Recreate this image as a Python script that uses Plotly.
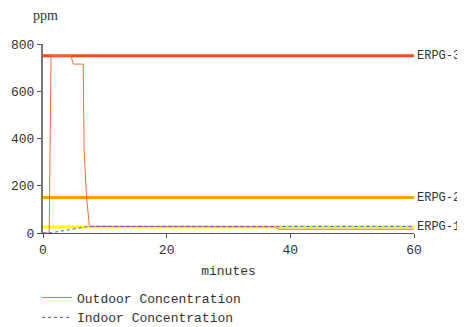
import plotly.graph_objects as go

# ERPG thresholds (ppm)
erpg_names = ["ERPG-3", "ERPG-2", "ERPG-1"]
erpg_values = [750, 150, 25]
erpg_colors = ["#FF4A14", "#FFA200", "#FFFF00"]

# Outdoor concentration (minutes, ppm)
outdoor_t = [0, 1.0, 1.05, 1.15, 1.25, 1.3, 4.5, 4.9, 6.5, 6.55, 6.65, 7.05, 7.5, 37.5, 38.2, 60]
outdoor_c = [0, 0, 130, 400, 650, 750, 750, 715, 715, 550, 350, 150, 28, 26, 16, 16]

# Indoor concentration (minutes, ppm)
indoor_t = [0, 1.0, 2, 3, 4, 5, 6, 7, 8, 20, 40, 60]
indoor_c = [0, 0, 4, 9, 14, 19, 23, 26, 28, 28, 28, 28]

x_ticks = [0, 20, 40, 60]
y_ticks = [0, 200, 400, 600, 800]

mono = "Liberation Mono"
fig = go.Figure()

for name, v, c in zip(erpg_names, erpg_values, erpg_colors):
    fig.add_trace(go.Scatter(x=[0, 60], y=[v, v], mode="lines",
                             line=dict(color=c, width=3), showlegend=False,
                             hoverinfo="skip"))
    fig.add_annotation(x=1, xref="paper", y=v, yref="y", text=name,
                       showarrow=False, xanchor="left", xshift=1,
                       font=dict(family=mono, size=12, color="#333333"))

fig.add_trace(go.Scatter(x=outdoor_t, y=outdoor_c, mode="lines",
                         name="Outdoor Concentration",
                         line=dict(color="#FF6A3D", width=1)))
fig.add_trace(go.Scatter(x=indoor_t, y=indoor_c, mode="lines",
                         name="Indoor Concentration",
                         line=dict(color="#3D4DFF", width=1, dash="dot")))

fig.add_annotation(x=0, xref="paper", y=1, yref="paper", text="ppm",
                   showarrow=False, xanchor="left", yanchor="middle",
                   xshift=-12, yshift=29,
                   font=dict(family="Liberation Serif", size=14, color="#333333"))

fig.update_layout(
    width=457, height=319,
    margin=dict(l=35, r=51, t=36, b=94, autoexpand=False),
    paper_bgcolor="white", plot_bgcolor="white",
    font=dict(family=mono, size=13, color="#333333"),
    showlegend=True,
    legend=dict(x=0.0635, y=0.1395, xref="container", yref="container",
                xanchor="left", yanchor="top",
                font=dict(family=mono, size=13, color="#333333"),
                bgcolor="rgba(0,0,0,0)", tracegroupgap=0),
    xaxis=dict(range=[0, 60], tickvals=x_ticks, showgrid=False, zeroline=False,
               showline=True, linecolor="#555555", linewidth=1, automargin=False,
               ticks="outside", ticklen=4, tickcolor="#555555",
               title=dict(text="minutes", standoff=9,
                          font=dict(family=mono, size=13, color="#333333"))),
    yaxis=dict(range=[0, 800], tickvals=y_ticks, showgrid=False, zeroline=False,
               showline=True, linecolor="#777777", linewidth=2, automargin=False,
               ticks="outside", ticklen=4, tickcolor="#555555"),
)

fig.write_html("out.html")
